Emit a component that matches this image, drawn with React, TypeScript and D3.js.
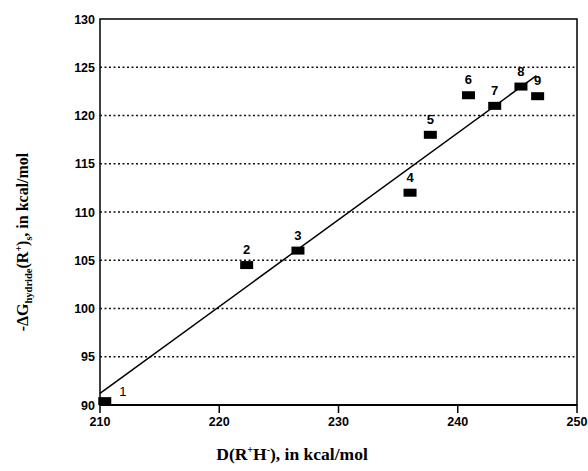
import * as d3 from 'd3';
import React, { useRef, useEffect } from 'react';

// hydride affinity data
const pointIds = ['1', '2', '3', '4', '5', '6', '7', '8', '9'];
const bondEnergy = [210.4, 222.3, 226.6, 236.0, 237.7, 240.9, 243.1, 245.3, 246.7];
const hydrideFreeEnergy = [90.4, 104.5, 106.0, 112.0, 118.0, 122.1, 121.0, 123.0, 122.0];
const xTicks = [210, 220, 230, 240, 250];
const yTicks = [90, 95, 100, 105, 110, 115, 120, 125, 130];
// least squares line as drawn: y = a + b * (x - 210)
const fitIntercept = 91.2;
const fitSlope = 0.9;
const fitRange = [210, 246.6];

const W = 588;
const H = 471;

const App = () => {
  const ref = useRef(null);

  useEffect(() => {
    const svg = d3.select(ref.current);
    svg.selectAll('*').remove();

    const x = d3.scaleLinear().domain([210, 250]).range([100, 577]);
    const y = d3.scaleLinear().domain([90, 130]).range([405, 19]);

    const tickFont = 'Liberation Sans, Arial, sans-serif';
    const titleFont = 'Liberation Serif, Times New Roman, serif';

    // dotted grid
    svg.selectAll()
      .data(yTicks.filter(t => t > 90 && t < 130))
      .enter()
      .append('line')
      .attr('x1', x(210)).attr('x2', x(250))
      .attr('y1', d => y(d)).attr('y2', d => y(d))
      .attr('stroke', '#111')
      .attr('stroke-width', 1.4)
      .attr('stroke-dasharray', '2,2.5');

    // frame
    svg.append('rect')
      .attr('x', x(210)).attr('y', y(130))
      .attr('width', x(250) - x(210)).attr('height', y(90) - y(130))
      .attr('fill', 'none')
      .attr('stroke', '#000')
      .attr('stroke-width', 1.5);
    svg.append('line')
      .attr('x1', x(210)).attr('x2', x(250))
      .attr('y1', y(90)).attr('y2', y(90))
      .attr('stroke', '#000').attr('stroke-width', 2.2);

    // x ticks
    svg.selectAll()
      .data(xTicks)
      .enter()
      .append('line')
      .attr('x1', d => x(d)).attr('x2', d => x(d))
      .attr('y1', y(90)).attr('y2', y(90) + 8)
      .attr('stroke', '#000').attr('stroke-width', 1.5);

    svg.selectAll()
      .data(xTicks)
      .enter()
      .append('text')
      .attr('x', d => x(d))
      .attr('y', y(90) + 21)
      .attr('text-anchor', 'middle')
      .attr('font-family', tickFont)
      .attr('font-weight', 'bold')
      .attr('font-size', 12.5)
      .text(d => d);

    svg.selectAll()
      .data(yTicks)
      .enter()
      .append('text')
      .attr('x', x(210) - 5)
      .attr('y', d => y(d) + 4.5)
      .attr('text-anchor', 'end')
      .attr('font-family', tickFont)
      .attr('font-weight', 'bold')
      .attr('font-size', 12.5)
      .text(d => d);

    // fit line
    const fit = d3.line<number>()
      .x(d => x(d))
      .y(d => y(fitIntercept + fitSlope * (d - 210)));
    svg.append('path')
      .attr('d', fit(fitRange))
      .attr('fill', 'none')
      .attr('stroke', '#000')
      .attr('stroke-width', 1.5);

    const pts = pointIds.map((id, i) => ({ id, x: bondEnergy[i], y: hydrideFreeEnergy[i] }));

    svg.selectAll()
      .data(pts)
      .enter()
      .append('rect')
      .attr('x', d => x(d.x) - 6.5)
      .attr('y', d => y(d.y) - 4)
      .attr('width', 13)
      .attr('height', 8)
      .attr('fill', '#000');

    svg.selectAll()
      .data(pts)
      .enter()
      .append('text')
      .attr('x', d => d.id === '1' ? x(d.x) + 18 : x(d.x))
      .attr('y', d => d.id === '1' ? y(d.y) - 5 : y(d.y) - 11)
      .attr('text-anchor', 'middle')
      .attr('font-family', tickFont)
      .attr('font-weight', d => d.id === '1' ? 'normal' : 'bold')
      .attr('font-size', 13)
      .text(d => d.id);

    // x title
    const xt = svg.append('text')
      .attr('x', 292)
      .attr('y', 460)
      .attr('text-anchor', 'middle')
      .attr('font-family', titleFont)
      .attr('font-weight', 'bold')
      .attr('font-size', 17.5);
    xt.append('tspan').text('D(R');
    xt.append('tspan').attr('font-size', 10).attr('dy', -7).text('+');
    xt.append('tspan').attr('dy', 7).text('H');
    xt.append('tspan').attr('font-size', 10).attr('dy', -7).text('-');
    xt.append('tspan').attr('dy', 7).text('), in kcal/mol');

    // y title
    const yt = svg.append('text')
      .attr('transform', 'translate(28,242) rotate(-90)')
      .attr('text-anchor', 'middle')
      .attr('font-family', titleFont)
      .attr('font-weight', 'bold')
      .attr('font-size', 16);
    yt.append('tspan').text('-ΔG');
    yt.append('tspan').attr('font-size', 10.5).attr('dy', 4).text('hydride');
    yt.append('tspan').attr('dy', -4).text('(R');
    yt.append('tspan').attr('font-size', 10).attr('dy', -6).text('+');
    yt.append('tspan').attr('dy', 6).text(')');
    yt.append('tspan').attr('font-size', 10).attr('dy', 4).text('s');
    yt.append('tspan').attr('dy', -4).text(',  in kcal/mol');
  }, []);

  return (
    <svg
      ref={ref}
      width={W}
      height={H}
      style={{ position: 'absolute', left: 0, top: 0, background: '#fff' }}
    />
  );
};

export default App;
